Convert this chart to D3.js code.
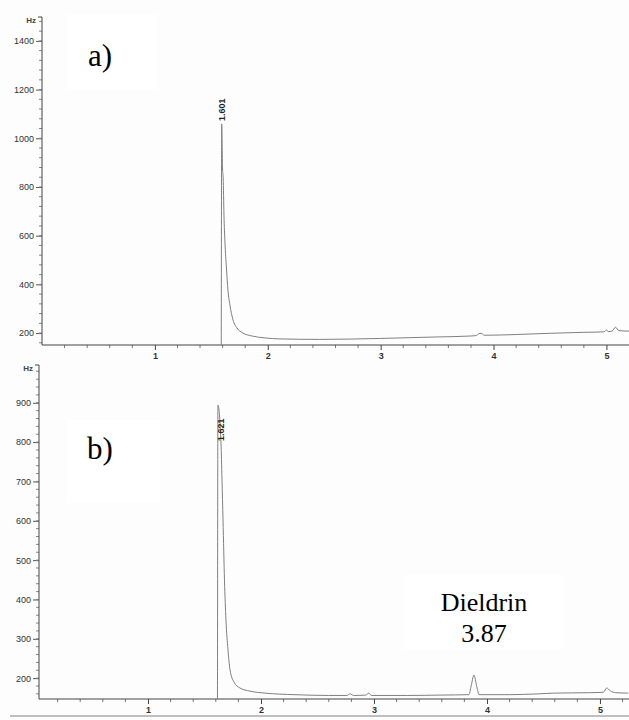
<!DOCTYPE html>
<html>
<head>
<meta charset="utf-8">
<script src="https://cdn.jsdelivr.net/npm/d3@7"></script>
<style>
  body { margin: 0; background: #fdfdfd; }
  svg { display: block; }
  .tick text { font-family: "Liberation Sans", Arial, sans-serif; font-size: 9px; fill: #333; }
  .serif { font-family: "Liberation Serif", "Tinos", "Noto Serif", "DejaVu Serif", "FreeSerif", "Times New Roman", Times, serif; }
  .sans { font-family: "Liberation Sans", Arial, sans-serif; }
</style>
</head>
<body>
<svg id="chart" width="629" height="720"></svg>
<script>
// chromatogram a) - time (min) and detector signal (Hz)
var aTime   = [1.588, 1.592, 1.599, 1.605, 1.612, 1.621, 1.634, 1.647, 1.665, 1.692, 1.727, 1.78, 1.86, 1.975, 2.108, 2.46, 3.0, 3.5, 3.8, 3.85, 3.87, 3.89, 3.92, 4.2, 4.5, 4.8, 4.98, 5.0, 5.015, 5.05, 5.08, 5.11, 5.2];
var aSignal = [151, 1059, 878, 837, 685, 570, 467, 377, 315, 254, 221, 200, 188, 180, 176, 174, 178, 184, 188, 190, 198, 199, 191, 194, 199, 203, 205, 213, 206, 208, 224, 210, 208];

// chromatogram b)
var bTime   = [1.615, 1.619, 1.646, 1.655, 1.664, 1.677, 1.69, 1.708, 1.726, 1.761, 1.814, 1.903, 2.035, 2.3, 2.6, 2.76, 2.79, 2.82, 2.93, 2.95, 2.98, 3.3, 3.6, 3.84, 3.86, 3.885, 3.91, 3.93, 4.2, 4.45, 4.6, 4.9, 5.03, 5.06, 5.09, 5.14, 5.25];
var bSignal = [147, 894, 798, 704, 602, 449, 348, 272, 221, 190, 175, 167, 162, 158, 156, 156, 160, 156, 157, 162, 156, 156, 157, 158, 180, 208, 178, 158, 158, 160, 162, 163, 164, 175, 168, 163, 162];

var xTicks  = [1, 2, 3, 4, 5];
var aYTicks = [200, 400, 600, 800, 1000, 1200, 1400];
var bYTicks = [200, 300, 400, 500, 600, 700, 800, 900];

var peakLabels = ["1.601", "1.621"];

var svg = d3.select("#chart");

function panel(opt) {
  var x = d3.scaleLinear().domain(opt.xDomain).range(opt.xRange);
  var y = d3.scaleLinear().domain(opt.yDomain).range(opt.yRange);
  var g = svg.append("g");
  var x0 = opt.xRange[0] + opt.axisShift;

  // white box behind the panel letter
  g.append("rect")
    .attr("x", opt.box[0]).attr("y", opt.box[1])
    .attr("width", opt.box[2]).attr("height", opt.box[3])
    .attr("fill", "#fff");

  // y axis
  var yAxis = g.append("g")
    .attr("transform", "translate(" + x0 + ",0)")
    .call(d3.axisLeft(y).tickValues(opt.yTicks).tickSize(6).tickPadding(2).tickFormat(d3.format("d")));
  yAxis.select(".domain").remove();
  yAxis.selectAll(".tick line").attr("stroke", "#555");

  var minorY = d3.range(Math.ceil(opt.yDomain[0] / opt.yMinor) * opt.yMinor, opt.yDomain[1], opt.yMinor);
  g.append("g").selectAll("line").data(minorY).enter().append("line")
    .attr("x1", x0 - 3).attr("x2", x0)
    .attr("y1", function(d) { return y(d); }).attr("y2", function(d) { return y(d); })
    .attr("stroke", "#888");

  g.append("path")
    .attr("d", "M" + (x0 - 4) + "," + opt.yRange[1] + "H" + x0 + "V" + opt.yRange[0])
    .attr("fill", "none").attr("stroke", "#444");

  g.append("text")
    .attr("class", "sans")
    .attr("x", x0 - 6).attr("y", opt.yRange[1] + 6)
    .attr("text-anchor", "end")
    .style("font-size", "8px").style("font-weight", "bold").attr("fill", "#444")
    .text("Hz");

  // x axis
  var xAxis = g.append("g")
    .attr("transform", "translate(0," + opt.yRange[0] + ")")
    .call(d3.axisBottom(x).tickValues(xTicks).tickSize(5).tickPadding(3).tickFormat(d3.format("d")));
  xAxis.select(".domain").remove();
  xAxis.selectAll(".tick line").attr("stroke", "#444");
  xAxis.selectAll(".tick text").style("font-weight", "bold");

  var minorX = d3.range(0.2, opt.xDomain[1], 0.2).filter(function(d) { return Math.abs(d - Math.round(d)) > 0.01; });
  g.append("g").selectAll("line").data(minorX).enter().append("line")
    .attr("x1", function(d) { return x(d); }).attr("x2", function(d) { return x(d); })
    .attr("y1", opt.yRange[0]).attr("y2", opt.yRange[0] + 3)
    .attr("stroke", "#777");

  g.append("line")
    .attr("x1", x0).attr("x2", opt.xRange[1])
    .attr("y1", opt.yRange[0]).attr("y2", opt.yRange[0])
    .attr("stroke", "#444").attr("stroke-width", 1.2);

  // trace
  var line = d3.line()
    .x(function(d, i) { return x(opt.time[i]); })
    .y(function(d) { return y(d); })
    .curve(d3.curveMonotoneX);
  g.append("path")
    .datum(opt.signal)
    .attr("d", line)
    .attr("fill", "none")
    .attr("stroke", "#808080")
    .attr("stroke-width", 1);

  // retention time label of the main peak
  var lx = x(opt.peak[0]) + opt.peakOffset[0];
  var ly = y(opt.peak[1]) + opt.peakOffset[1];
  g.append("text")
    .attr("class", "sans")
    .attr("transform", "translate(" + lx + "," + ly + ") rotate(-90)")
    .style("font-size", "9px").style("font-weight", "bold")
    .attr("fill", "#222")
    .text(opt.peakLabel);

  // panel letter
  g.append("text")
    .attr("class", "serif")
    .attr("x", opt.letterPos[0]).attr("y", opt.letterPos[1])
    .style("font-size", "31px").attr("fill", "#000")
    .text(opt.letter);

  return { x: x, y: y, g: g };
}

var pa = panel({
  time: aTime, signal: aSignal, yTicks: aYTicks, yMinor: 40,
  xDomain: [0, 5.2], xRange: [42, 629], axisShift: 0,
  yDomain: [151, 1498], yRange: [345, 17],
  box: [67, 14, 90, 76],
  peak: [1.592, 1059], peakOffset: [3.5, -3], peakLabel: peakLabels[0],
  letter: "a)", letterPos: [88, 66]
});

var pb = panel({
  time: bTime, signal: bSignal, yTicks: bYTicks, yMinor: 20,
  xDomain: [0, 5.257], xRange: [35, 629], axisShift: 4,
  yDomain: [147, 996], yRange: [699, 365],
  box: [67, 420, 93, 83],
  peak: [1.619, 798], peakOffset: [6.5, -2], peakLabel: peakLabels[1],
  letter: "b)", letterPos: [87, 459]
});

// Dieldrin annotation
pb.g.append("rect")
  .attr("x", 404).attr("y", 575).attr("width", 159).attr("height", 75)
  .attr("fill", "#fff");
var ann = pb.g.append("text")
  .attr("class", "serif")
  .attr("text-anchor", "middle")
  .style("font-size", "26px").attr("fill", "#000");
ann.append("tspan").attr("x", 484).attr("y", 611).text("Dieldrin");
ann.append("tspan").attr("x", 484).attr("y", 642).text("3.87");

// scan edge line at the bottom
svg.append("line")
  .attr("x1", 10).attr("x2", 629).attr("y1", 716).attr("y2", 716)
  .attr("stroke", "#aaa").attr("stroke-width", 1.5);
</script>
</body>
</html>
